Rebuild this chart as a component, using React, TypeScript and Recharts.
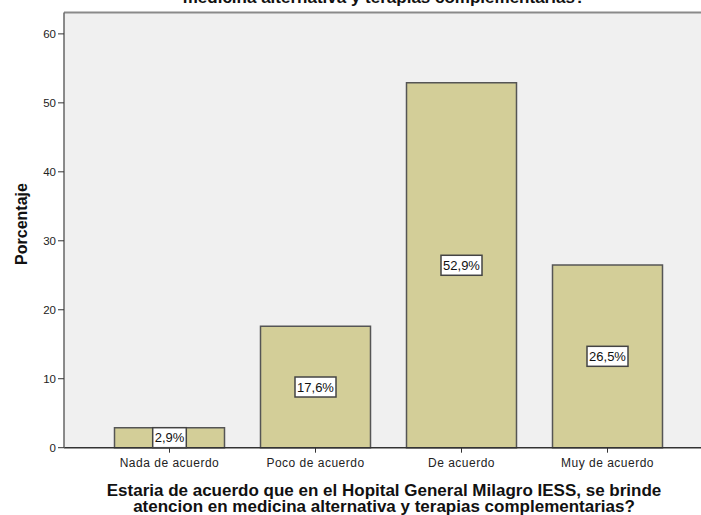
import React from "react";
import { BarChart, Bar, XAxis, YAxis, CartesianGrid, ReferenceLine, LabelList } from "recharts";

const categories = ["Nada de acuerdo", "Poco de acuerdo", "De acuerdo", "Muy de acuerdo"];
const percentages = [2.9, 17.6, 52.9, 26.5];
const yTicks = [0, 10, 20, 30, 40, 50, 60];
const Y_MAX = 63.1;

const data = categories.map((name, i) => ({ name, value: percentages[i] }));

const FONT = "'Liberation Sans', Arial, sans-serif";

const renderValueLabel = (props: any) => {
  const { x, y, width, height, value } = props;
  const cx = x + width / 2;
  const cy = y + height / 2;
  const txt = `${value.toFixed(1).replace(".", ",")}%`;
  const w = txt.length * 7.4 + 4;
  return (
    <g>
      <rect x={cx - w / 2} y={cy - 10} width={w} height={20} fill="#fff" stroke="#444" strokeWidth={1.5} />
      <text x={cx} y={cy + 4.5} textAnchor="middle" fontSize={13} fill="#111" fontFamily={FONT}>
        {txt}
      </text>
    </g>
  );
};

export default function App() {
  return (
    <div
      style={{
        position: "absolute",
        left: 0,
        top: 0,
        width: 701,
        height: 515,
        overflow: "hidden",
        background: "#fff",
        fontFamily: FONT,
      }}
    >
      <div
        style={{
          position: "absolute",
          top: -10,
          left: 64,
          width: 640,
          textAlign: "center",
          fontWeight: "bold",
          fontSize: 17,
          lineHeight: "16px",
          color: "#111",
        }}
      >
        medicina alternativa y terapias complementarias?
      </div>

      <BarChart
        width={704}
        height={515}
        data={data}
        margin={{ top: 12.5, right: 0, left: 0, bottom: 37.3 }}
      >
        <CartesianGrid horizontal={false} vertical={false} fill="#F0F0F0" />
        <ReferenceLine y={Y_MAX} stroke="#8a8a8a" strokeWidth={2} />
        <XAxis
          dataKey="name"
          height={30}
          padding={{ left: 32.5, right: 23.5 }}
          tickSize={5}
          tickMargin={6}
          tick={{ fontSize: 12, fill: "#222", letterSpacing: 0.5 }}
          tickLine={{ stroke: "#333" }}
          axisLine={{ stroke: "#333", strokeWidth: 1.5 }}
          interval={0}
        />
        <YAxis
          width={64}
          domain={[0, Y_MAX]}
          ticks={yTicks}
          tickSize={6}
          tickMargin={2}
          tick={{ fontSize: 11.5, fill: "#222" }}
          tickLine={{ stroke: "#333" }}
          axisLine={{ stroke: "#666", strokeWidth: 1.5 }}
        />
        <Bar dataKey="value" fill="#D3CE98" stroke="#555" strokeWidth={1.5} barSize={110} isAnimationActive={false}>
          <LabelList dataKey="value" content={renderValueLabel} />
        </Bar>
      </BarChart>

      <div
        style={{
          position: "absolute",
          left: 22,
          top: 224,
          transform: "translate(-50%, -50%) rotate(-90deg)",
          fontWeight: "bold",
          fontSize: 16,
          lineHeight: "16px",
          whiteSpace: "nowrap",
          color: "#111",
        }}
      >
        Porcentaje
      </div>

      <div
        style={{
          position: "absolute",
          top: 483,
          left: 64,
          width: 640,
          textAlign: "center",
          fontWeight: "bold",
          fontSize: 17,
          lineHeight: "16px",
          color: "#111",
        }}
      >
        Estaria de acuerdo que en el Hopital General Milagro IESS, se brinde
        <br />
        atencion en medicina alternativa y terapias complementarias?
      </div>
    </div>
  );
}
